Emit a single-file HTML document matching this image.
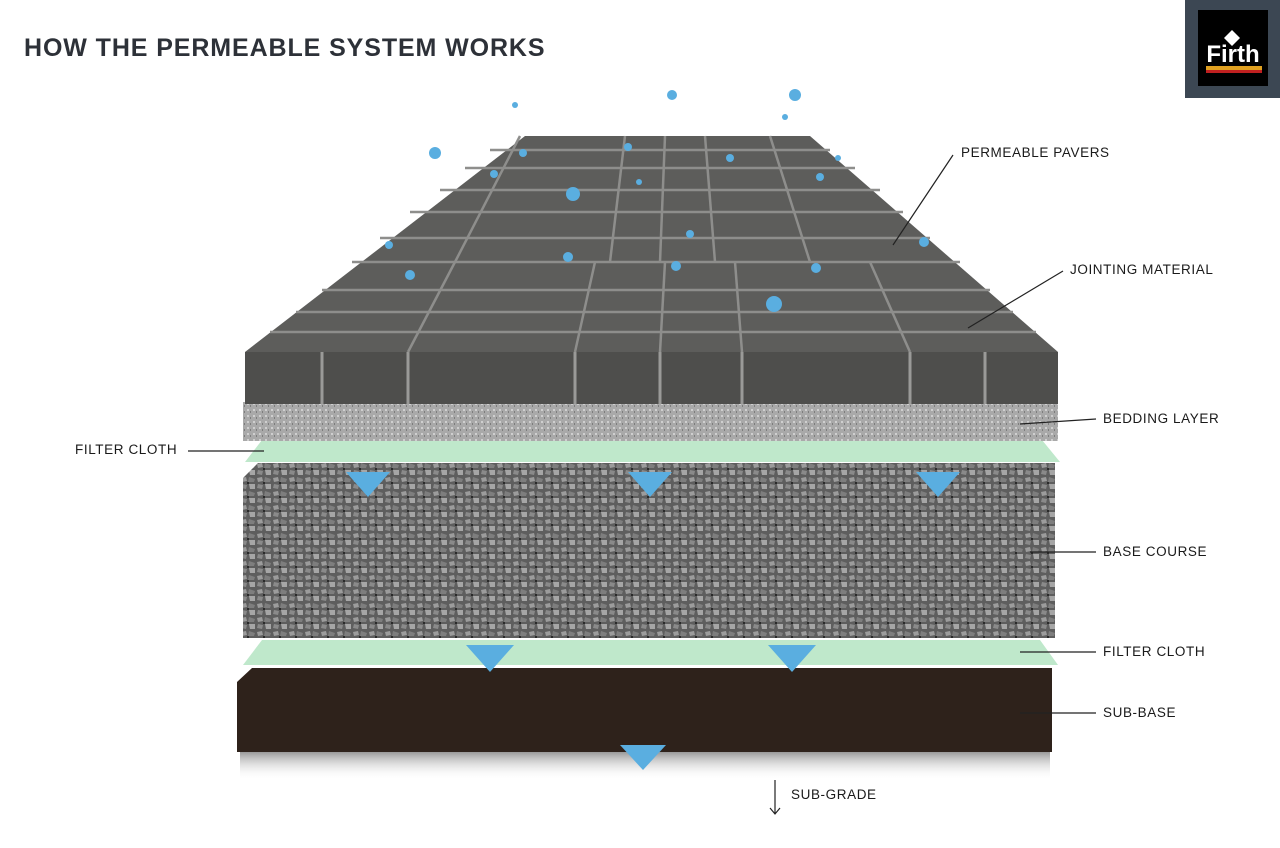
<!DOCTYPE html>
<html><head><style>
body{margin:0;background:#fff;}
svg{display:block}
text{font-family:"Liberation Sans",sans-serif;}
</style></head><body>
<svg width="1280" height="848" viewBox="0 0 1280 848" xmlns="http://www.w3.org/2000/svg">
<defs>
<pattern id="grav" width="16" height="14" patternUnits="userSpaceOnUse">
<rect width="16" height="14" fill="#5e5e5e"/>
<polygon points="1,2 6,1 7,5 2,6" fill="#9c9c9c"/>
<polygon points="9,1 15,3 14,6 8,6" fill="#7e7e7e"/>
<polygon points="2,8 7,9 6,13 1,12" fill="#8a8a8a"/>
<polygon points="9,8 15,8 15,13 10,13" fill="#a6a6a6"/>
<rect x="7" y="6" width="2" height="2" fill="#2a2a2a"/>
</pattern>
<pattern id="bed" width="6" height="6" patternUnits="userSpaceOnUse">
<rect width="6" height="6" fill="#a9a9a9"/>
<rect x="1" y="1" width="2" height="2" fill="#cfcfcf"/>
<rect x="4" y="3" width="1" height="2" fill="#7d7d7d"/>
</pattern>
<linearGradient id="sh" x1="0" y1="0" x2="0" y2="1"><stop offset="0" stop-color="#999"/><stop offset="1" stop-color="#fff" stop-opacity="0"/></linearGradient>
</defs>
<text x="24" y="56" font-size="25" font-weight="bold" fill="#2d3138" letter-spacing="0.9">HOW THE PERMEABLE SYSTEM WORKS</text>
<!-- logo -->
<rect x="1185" y="0" width="95" height="98" fill="#3c4753"/>
<rect x="1198" y="10" width="70" height="76" fill="#000"/>
<text x="1233" y="62" font-size="24" font-family="Liberation Serif" fill="#fff" text-anchor="middle" font-weight="bold">Firth</text>
<polygon points="1232,30 1240,38 1232,46 1224,38" fill="#fff"/>
<rect x="1206" y="66" width="56" height="4" fill="#e0a020"/>
<rect x="1206" y="70" width="56" height="3" fill="#c02020"/>
<!-- shadow -->
<rect x="240" y="752" width="810" height="28" fill="url(#sh)"/>
<!-- sub-base -->
<polygon points="237,682 252,668 1052,668 1052,752 237,752" fill="#2e221b"/>
<!-- filter cloth 2 -->
<polygon points="262,640 1040,640 1058,665 243,665" fill="#bfe8cb"/>
<!-- base course -->
<polygon points="243,478 258,463 1055,463 1055,638 243,638" fill="url(#grav)"/>
<!-- filter cloth 1 -->
<polygon points="262,440 1042,440 1060,462 245,462" fill="#bfe8cb"/>
<!-- bedding -->
<rect x="243" y="402" width="815" height="39" fill="url(#bed)"/>
<!-- paver front -->
<rect x="245" y="352" width="813" height="52" fill="#4e4e4c"/>
<g stroke="#9a9a98" stroke-width="3">
<line x1="322" y1="352" x2="322" y2="404"/><line x1="408" y1="352" x2="408" y2="404"/><line x1="575" y1="352" x2="575" y2="404"/><line x1="660" y1="352" x2="660" y2="404"/><line x1="742" y1="352" x2="742" y2="404"/><line x1="910" y1="352" x2="910" y2="404"/><line x1="985" y1="352" x2="985" y2="404"/>
</g>
<!-- paver top -->
<polygon points="245,352 525,136 810,136 1058,352" fill="#5d5d5b"/>
<g stroke="#8e8e8c" stroke-width="2.5" fill="none">
<line x1="270" y1="332" x2="1036" y2="332"/><line x1="296" y1="312" x2="1013" y2="312"/><line x1="322" y1="290" x2="990" y2="290"/><line x1="352" y1="262" x2="960" y2="262"/><line x1="380" y1="238" x2="930" y2="238"/><line x1="410" y1="212" x2="903" y2="212"/><line x1="440" y1="190" x2="880" y2="190"/><line x1="465" y1="168" x2="855" y2="168"/><line x1="490" y1="150" x2="830" y2="150"/>
<line x1="408" y1="352" x2="455" y2="262"/><line x1="575" y1="352" x2="595" y2="262"/><line x1="660" y1="352" x2="665" y2="262"/><line x1="742" y1="352" x2="735" y2="262"/><line x1="910" y1="352" x2="870" y2="262"/>
<line x1="455" y1="262" x2="520" y2="136"/><line x1="610" y1="262" x2="625" y2="136"/><line x1="660" y1="262" x2="665" y2="136"/><line x1="715" y1="262" x2="705" y2="136"/><line x1="810" y1="262" x2="770" y2="136"/>
</g>
<!-- drops -->
<g fill="#5aaee0">
<circle cx="435" cy="153" r="6"/><circle cx="573" cy="194" r="7"/><circle cx="774" cy="304" r="8"/><circle cx="795" cy="95" r="6"/><circle cx="672" cy="95" r="5"/><circle cx="410" cy="275" r="5"/><circle cx="389" cy="245" r="4"/><circle cx="568" cy="257" r="5"/><circle cx="676" cy="266" r="5"/><circle cx="816" cy="268" r="5"/><circle cx="924" cy="242" r="5"/><circle cx="690" cy="234" r="4"/><circle cx="730" cy="158" r="4"/><circle cx="628" cy="147" r="4"/><circle cx="523" cy="153" r="4"/><circle cx="494" cy="174" r="4"/><circle cx="820" cy="177" r="4"/><circle cx="515" cy="105" r="3"/><circle cx="785" cy="117" r="3"/><circle cx="639" cy="182" r="3"/><circle cx="838" cy="158" r="3"/>
</g>
<!-- triangles -->
<g fill="#5aaee0">
<polygon points="346,472 390,472 368,497"/><polygon points="628,472 672,472 650,497"/><polygon points="916,472 960,472 938,497"/>
<polygon points="466,645 514,645 490,672"/><polygon points="768,645 816,645 792,672"/><polygon points="620,745 666,745 643,770"/>
</g>
<!-- leader lines -->
<g stroke="#222" stroke-width="1.2">
<line x1="953" y1="155" x2="893" y2="245"/>
<line x1="1063" y1="271" x2="968" y2="328"/>
<line x1="1096" y1="419" x2="1020" y2="424"/>
<line x1="188" y1="451" x2="264" y2="451"/>
<line x1="1096" y1="552" x2="1030" y2="552"/>
<line x1="1096" y1="652" x2="1020" y2="652"/>
<line x1="1096" y1="713" x2="1020" y2="713"/>
<line x1="775" y1="780" x2="775" y2="814"/>
</g>
<polyline points="770,808 775,814 780,808" fill="none" stroke="#222" stroke-width="1.2"/>
<g font-size="13.5" fill="#1a1a1a" letter-spacing="0.6">
<text x="961" y="157">PERMEABLE PAVERS</text>
<text x="1070" y="274">JOINTING MATERIAL</text>
<text x="1103" y="423">BEDDING LAYER</text>
<text x="75" y="454">FILTER CLOTH</text>
<text x="1103" y="556">BASE COURSE</text>
<text x="1103" y="656">FILTER CLOTH</text>
<text x="1103" y="717">SUB-BASE</text>
<text x="791" y="799">SUB-GRADE</text>
</g>
</svg>
</body></html>
